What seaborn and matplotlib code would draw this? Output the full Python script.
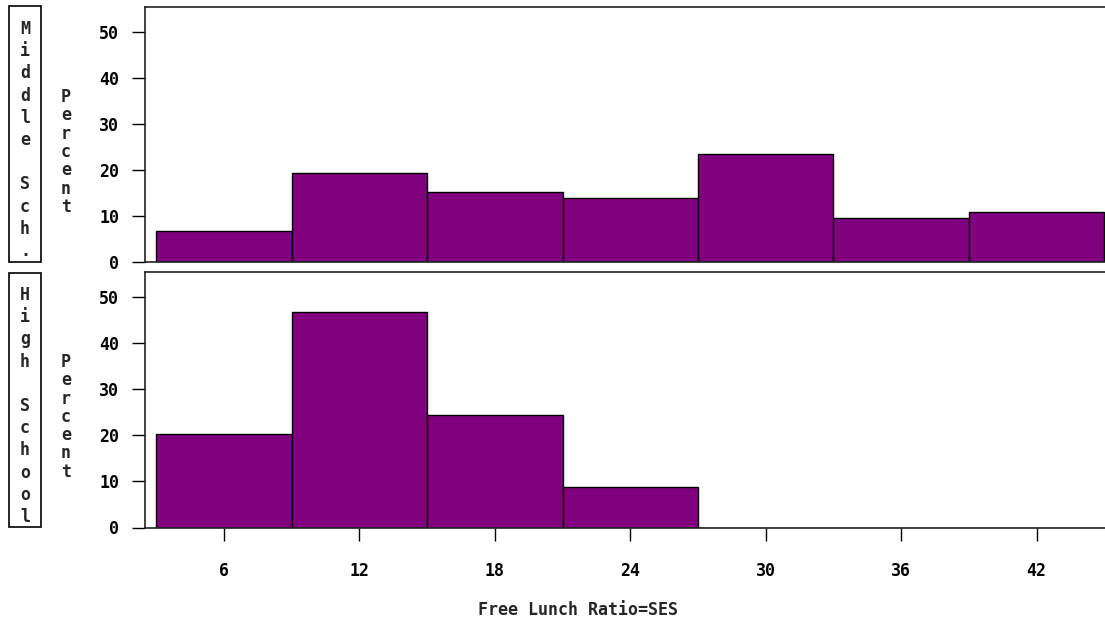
import numpy as np
import pandas as pd
import matplotlib
matplotlib.use("Agg")
import matplotlib.pyplot as plt
from matplotlib.patches import Rectangle
import seaborn as sns

# ---- data ----
bin_edges = [3, 9, 15, 21, 27, 33, 39, 45]
bin_mids = [6, 12, 18, 24, 30, 36, 42]
middle_pct = [6.8, 19.3, 15.1, 13.9, 23.4, 9.6, 10.9]
high_pct = [20.2, 46.8, 24.4, 8.8, 0, 0, 0]
panel_labels = ["Middle Sch.", "High School"]
y_ticks = [0, 10, 20, 30, 40, 50]
x_ticks = [6, 12, 18, 24, 30, 36, 42]
x_label = "Free Lunch Ratio=SES"
y_label = "Percent"

sns.set_style("white")
plt.rcParams['font.family'] = ['DejaVu Sans Mono', 'DejaVu Sans']
plt.rcParams['font.weight'] = 'bold'

W, H = 1105, 623
fig = plt.figure(figsize=(W / 100, H / 100), dpi=100)

def fx(px):
    return px / W

def fy(py):
    return 1 - py / H

left = fx(145)
right = 1.0
panels = [(7, 262), (272, 527.5)]
purple = "#800080"
FS = 12

# layout of stacked side labels (pixel rows)
label_first = [29, 295]
box_rows = [(6, 262), (273, 527)]
percent_first = [97, 362]
label_step = 22.2
percent_step = 18.3

for i, ((top_px, bot_px), vals) in enumerate(zip(panels, [middle_pct, high_pct])):
    ax = fig.add_axes([left, fy(bot_px), right - left, fy(top_px) - fy(bot_px)])
    df = pd.DataFrame({"x": bin_mids, "w": vals})
    df = df[df["w"] > 0]
    sns.histplot(data=df, x="x", weights="w", bins=bin_edges, ax=ax,
                 color=purple, alpha=1.0, edgecolor="black", linewidth=1.0)
    ax.set_xlim(2.5, 45.03)
    ax.set_ylim(0, 55.4)
    ax.set_yticks(y_ticks)
    ax.set_yticklabels([str(t) for t in y_ticks], fontsize=FS, fontweight='bold')
    ax.set_xlabel("")
    ax.set_ylabel("")
    for s in ["left", "top", "bottom"]:
        ax.spines[s].set_visible(True)
        ax.spines[s].set_color("#222222")
        ax.spines[s].set_linewidth(1.2)
    ax.spines["right"].set_visible(False)
    ax.tick_params(axis='y', direction='out', length=9.5, width=1.0, pad=9,
                   left=True, colors="black")
    if i == 0:
        ax.set_xticks([])
    else:
        ax.set_xticks(x_ticks)
        ax.set_xticklabels([str(t) for t in x_ticks], fontsize=FS, fontweight='bold')
        ax.tick_params(axis='x', direction='out', length=9.5, width=1.0, pad=15,
                       bottom=True, colors="black")

    # stacked panel label with box
    label = panel_labels[i]
    for k, ch in enumerate(label):
        if ch != " ":
            fig.text(fx(25), fy(label_first[i] + k * label_step), ch, ha="center", va="center",
                     fontsize=FS, fontweight="bold")
    bt, bb = box_rows[i]
    fig.add_artist(Rectangle((fx(9), fy(bb)), fx(41) - fx(9), fy(bt) - fy(bb),
                             transform=fig.transFigure, fill=False, edgecolor="black",
                             linewidth=1.2))
    # stacked Percent
    for k, ch in enumerate(y_label):
        fig.text(fx(66), fy(percent_first[i] + k * percent_step), ch, ha="center", va="center",
                 fontsize=FS, fontweight="bold")

fig.text(fx(578), fy(610), x_label, ha="center", va="center", fontsize=FS, fontweight="bold")

fig.savefig("out.png", dpi=100)
